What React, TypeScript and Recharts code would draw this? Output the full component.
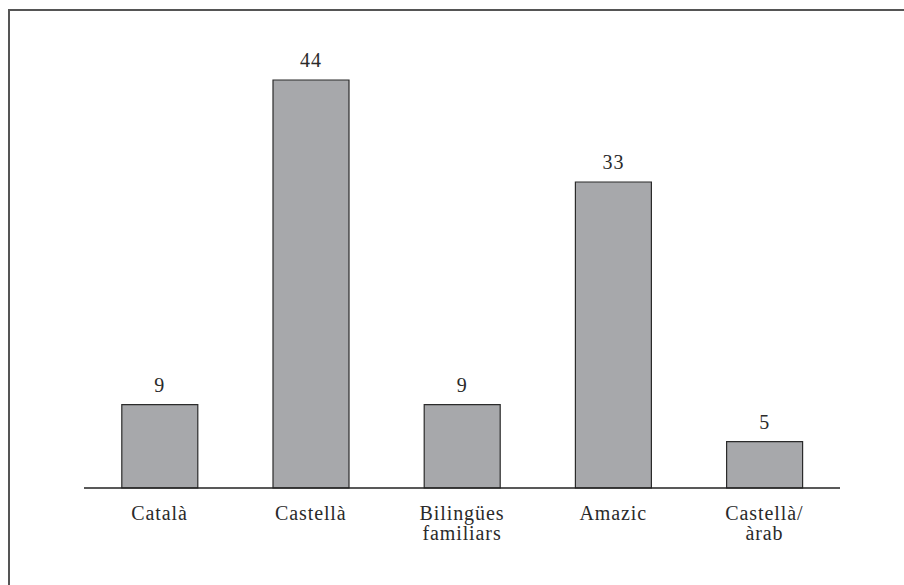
import { BarChart, Bar, XAxis, YAxis, LabelList } from 'recharts';

const categories = ['Català', 'Castellà', 'Bilingües\nfamiliars', 'Amazic', 'Castellà/\nàrab'];
const values = [9, 44, 9, 33, 5];

const data = categories.map((name, i) => ({ name, value: values[i] }));

const FONT = "'Liberation Serif', 'Times New Roman', serif";

const CategoryTick = ({ x, y, payload }: any) => {
  const lines = String(payload.value).split('\n');
  return (
    <text
      x={x}
      y={y}
      textAnchor="middle"
      fill="#2a2a2a"
      style={{ fontFamily: FONT, fontSize: 20, letterSpacing: 0.9 }}
    >
      {lines.map((line, i) => (
        <tspan key={i} x={x} dy={i === 0 ? 32 : 20}>
          {line}
        </tspan>
      ))}
    </text>
  );
};

const ValueLabel = ({ x, y, width, value }: any) => (
  <text
    x={x + width / 2}
    y={y - 13}
    textAnchor="middle"
    fill="#2a2a2a"
    style={{ fontFamily: FONT, fontSize: 20, letterSpacing: 0.9 }}
  >
    {value}
  </text>
);

const App = () => {
  return (
    <div
      style={{
        position: 'absolute',
        left: 8,
        top: 9,
        width: 896,
        height: 576,
        boxSizing: 'border-box',
        borderTop: '2px solid #555',
        borderLeft: '2px solid #555',
        background: '#fff',
      }}
    >
      <BarChart
        width={894}
        height={574}
        data={data}
        margin={{ top: 69, right: 64, bottom: 37, left: 74 }}
        barCategoryGap="25%"
      >
        <XAxis
          dataKey="name"
          interval={0}
          tickLine={false}
          tickSize={0}
          tickMargin={0}
          height={60}
          axisLine={{ stroke: '#222', strokeWidth: 1.5 }}
          tick={<CategoryTick />}
        />
        <YAxis hide domain={[0, 44]} />
        <Bar dataKey="value" fill="#a7a8ab" stroke="#2b2b2b" strokeWidth={1.2} isAnimationActive={false}>
          <LabelList dataKey="value" content={<ValueLabel />} />
        </Bar>
      </BarChart>
    </div>
  );
};

export default App;
